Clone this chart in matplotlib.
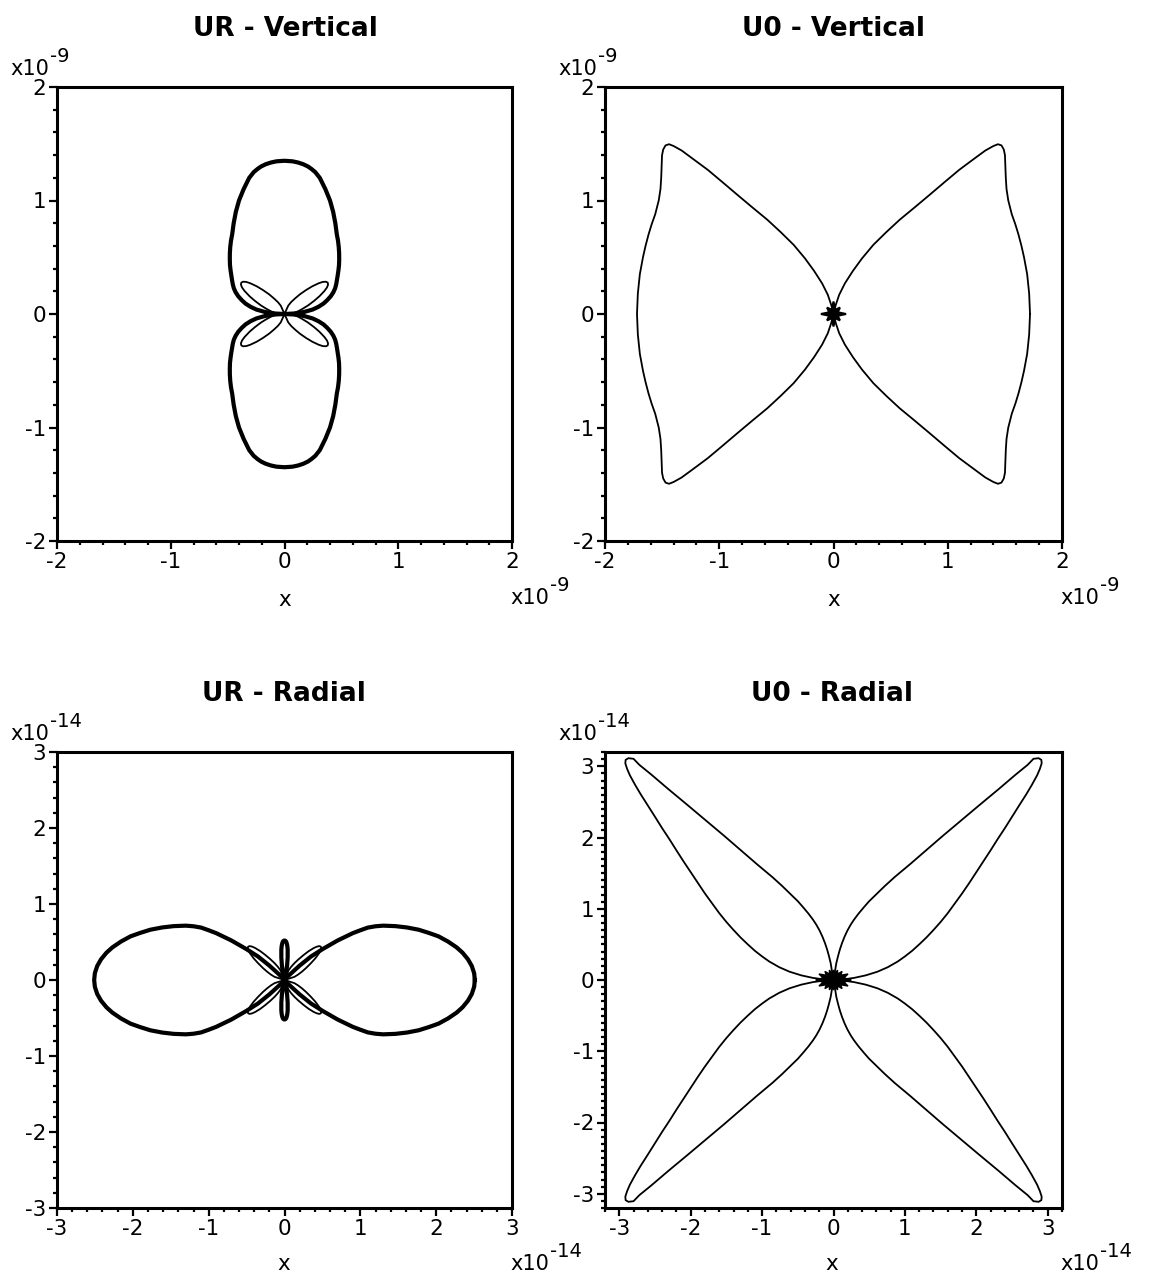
import numpy as np
import matplotlib
matplotlib.use("Agg")
import matplotlib.pyplot as plt
from matplotlib.ticker import MultipleLocator

plt.rcParams['font.family'] = 'DejaVu Sans'
plt.rcParams['axes.unicode_minus'] = False

# Radiation patterns, first quadrant only (angle in degrees from +x, radius in axis units).
# The other three quadrants follow from the x/y symmetry of the patterns.

# UR - Vertical (x1e-9): main lobes (thick) and diagonal side petals (thin)
ur_vert_theta = [0, 3, 6, 9, 12, 15, 18, 21, 24, 27, 30, 33, 36, 39, 42, 45, 48, 51, 54,
                 56.7, 60.8, 64.6, 68.2, 71.9, 75.5, 77.8, 79.6, 81, 82.9, 84.9, 87, 90]
ur_vert_r = [0.0, 0.09, 0.175, 0.25, 0.305, 0.355, 0.395, 0.435, 0.47, 0.50, 0.525,
             0.55, 0.578, 0.61, 0.645, 0.68, 0.718, 0.758, 0.80, 0.838, 0.916, 0.997,
             1.077, 1.157, 1.239, 1.279, 1.301, 1.316, 1.330, 1.340, 1.347, 1.35]
ur_vert_petal_theta = [0, 6, 11, 16, 20, 24, 27, 30, 32, 34, 36, 38, 40, 42, 45, 48, 52,
                       56, 61, 66, 72]
ur_vert_petal_r = [0.0, 0.08, 0.12, 0.165, 0.22, 0.285, 0.345, 0.405, 0.44, 0.462, 0.47,
                   0.462, 0.44, 0.405, 0.345, 0.285, 0.22, 0.165, 0.12, 0.08, 0.0]

# U0 - Vertical (x1e-9)
u0_vert_theta = [0, 6, 11.7, 16.7, 20, 23.4, 26.4, 29.4, 33.2, 36, 38.5, 40.8, 43, 44.2,
                 45.3, 46.1, 46.6, 47.3, 48.1, 49.1, 50.1, 51.3, 52.9, 55.1, 57.4, 60.2,
                 63, 65.9, 69.7, 73.6, 76, 90]
u0_vert_r = [1.72, 1.722, 1.731, 1.741, 1.751, 1.764, 1.777, 1.791, 1.828, 1.872, 1.927,
             1.988, 2.052, 2.079, 2.09, 2.076, 2.037, 1.96, 1.827, 1.68, 1.512, 1.345,
             1.178, 1.013, 0.854, 0.703, 0.55, 0.416, 0.288, 0.177, 0.082, 0.0]
u0_vert_burst_theta = [0, 22.5, 45, 67.5, 90]
u0_vert_burst_r = [0.11, 0.04, 0.08, 0.04, 0.11]

# UR - Radial (x1e-14)
ur_rad_theta = [0, 2.1, 4.3, 6.4, 8.7, 10.7, 13.2, 15.8, 18, 20.5, 23.2, 25.9, 28.8,
                30.5, 32.1, 33.2, 34.4, 36.6, 39, 41.5, 43.5, 45, 48.4, 52,
                74, 77, 78.5, 80, 82, 84, 85, 86, 87, 88, 89, 90]
ur_rad_r = [2.51, 2.502, 2.476, 2.435, 2.375, 2.31, 2.215, 2.11, 2.003, 1.889, 1.755,
            1.623, 1.484, 1.393, 1.298, 1.195, 1.09, 0.872, 0.643, 0.468, 0.276, 0.141,
            0.06, 0.0, 0.0, 0.06, 0.13, 0.2, 0.3, 0.4, 0.44, 0.47, 0.495, 0.51, 0.517,
            0.52]
ur_rad_petal_theta = [11.5, 17.5, 21.5, 25.5, 29, 32.5, 35, 37.5, 39.1, 40.8, 42.5, 44.2,
                      45.9, 47.5, 50, 52.5, 56, 59.5, 63.5, 67.5, 73.5]
ur_rad_petal_r = [0.0, 0.137, 0.19, 0.255, 0.325, 0.415, 0.495, 0.57, 0.61, 0.64, 0.65,
                  0.64, 0.61, 0.57, 0.495, 0.415, 0.325, 0.255, 0.19, 0.137, 0.0]

# U0 - Radial (x1e-14)
u0_rad_theta = [0, 2.9, 5.9, 8.2, 10.7, 13.3, 16.1, 18.3, 20.4, 22.6, 24.6, 26.6, 28.5,
                30.4, 32.3, 34.0, 35.6, 37.1, 38.4, 39.6, 40.7, 41.6, 42.5, 43.3, 44.0,
                44.6, 45.2, 45.7, 46.2, 46.7, 47.3, 47.95, 48.0, 48.5, 49.2, 50.2, 51.4,
                52.9, 54.7, 56.6, 59.3, 61.4, 63.5, 65.7, 67.5, 69.4, 71.2, 72.8, 74.3,
                75.7, 77.0, 78.2, 79.2, 80.5, 80.5, 78.7, 90]
u0_rad_r = [0.0, 0.12, 0.292, 0.455, 0.626, 0.781, 0.937, 1.053, 1.174, 1.30, 1.43,
            1.565, 1.707, 1.856, 2.011, 2.172, 2.337, 2.506, 2.68, 2.855, 3.032, 3.209,
            3.39, 3.573, 3.755, 3.903, 4.045, 4.137, 4.212, 4.245, 4.236, 4.181, 4.064,
            3.847, 3.538, 3.202, 2.867, 2.534, 2.206, 1.946, 1.683, 1.504, 1.346, 1.213,
            1.099, 0.994, 0.898, 0.811, 0.722, 0.629, 0.534, 0.439, 0.346, 0.243, 0.152,
            0.051, 0.0]
u0_rad_burst_theta = [0, 11.25, 22.5, 33.75, 45, 56.25, 67.5, 78.75, 90]
u0_rad_burst_r = [0.25, 0.15, 0.22, 0.12, 0.17, 0.10, 0.15, 0.09, 0.14]

W, H = 1152, 1277


def mirror(theta_q, r_q):
    t = np.asarray(theta_q, dtype=float)
    r = np.asarray(r_q, dtype=float)
    ang = np.concatenate([t, 180 - t[::-1], 180 + t, 360 - t[::-1]])
    rr = np.concatenate([r, r[::-1], r, r[::-1]])
    a = np.radians(ang)
    return rr * np.cos(a), rr * np.sin(a)


fig = plt.figure(figsize=(W / 100, H / 100), dpi=100)


def fig_text(x, y, s, **kw):
    fig.text(x / W, 1 - y / H, s, va='baseline', **kw)


def exponent(x, y, power):
    fig_text(x, y, 'x10', ha='left', fontsize=15)
    fig_text(x + 40, y - 13, power, ha='left', fontsize=14)


def make_axes(left, top, width, height, lim, xminor, yminor):
    ax = fig.add_axes([left / W, 1 - (top + height) / H, width / W, height / H])
    ax.set_xlim(-lim[0], lim[0])
    ax.set_ylim(-lim[1], lim[1])
    ax.xaxis.set_major_locator(MultipleLocator(1))
    ax.yaxis.set_major_locator(MultipleLocator(1))
    ax.xaxis.set_minor_locator(MultipleLocator(xminor))
    ax.yaxis.set_minor_locator(MultipleLocator(yminor))
    for sp in ax.spines.values():
        sp.set_linewidth(2.2)
    ax.tick_params(which='both', direction='out', top=False, right=False,
                   width=1.6, labelsize=15.5)
    ax.tick_params(which='major', length=6, pad=2)
    ax.tick_params(which='minor', length=3)
    return ax


thick = dict(color='black', lw=3.0, solid_joinstyle='round')
thin = dict(color='black', lw=1.3, solid_joinstyle='round')

# top left
ax1 = make_axes(57, 87, 455, 454, (2, 2), 0.2, 0.2)
ax1.plot(*mirror(ur_vert_theta, ur_vert_r), **thick)
ax1.plot(*mirror(ur_vert_petal_theta, ur_vert_petal_r), **thin)

# top right
ax2 = make_axes(605, 87, 457, 454, (2, 2), 0.2, 0.2)
ax2.plot(*mirror(u0_vert_theta, u0_vert_r), **thin)
ax2.fill(*mirror(u0_vert_burst_theta, u0_vert_burst_r), color='black', lw=1.5)

# bottom left
ax3 = make_axes(57, 752, 455, 456, (3, 3), 0.2, 0.2)
ax3.plot(*mirror(ur_rad_theta, ur_rad_r), **thick)
ax3.plot(*mirror(ur_rad_petal_theta, ur_rad_petal_r), **thin)

# bottom right
ax4 = make_axes(605, 752, 457, 456, (3.2, 3.2), 0.2, 0.1)
ax4.plot(*mirror(u0_rad_theta, u0_rad_r), **thin)
ax4.fill(*mirror(u0_rad_burst_theta, u0_rad_burst_r), color='black', lw=1.0)

# titles, axis labels and exponent labels
for cx, ty, title in [(285, 36, 'UR - Vertical'), (834, 36, 'U0 - Vertical'),
                      (284, 701, 'UR - Radial'), (832, 701, 'U0 - Radial')]:
    fig_text(cx, ty, title, ha='center', fontsize=19, fontweight='bold')

for cx, by in [(285, 606), (834, 606), (284, 1270), (832, 1270)]:
    fig_text(cx, by, 'x', ha='center', fontsize=15.5)

for x, y, p in [(10, 75, '-9'), (558, 75, '-9'), (510, 604, '-9'), (1060, 604, '-9'),
                (10, 740, '-14'), (558, 740, '-14'), (510, 1270, '-14'),
                (1060, 1270, '-14')]:
    exponent(x, y, p)

fig.savefig('out.png', dpi=100)
